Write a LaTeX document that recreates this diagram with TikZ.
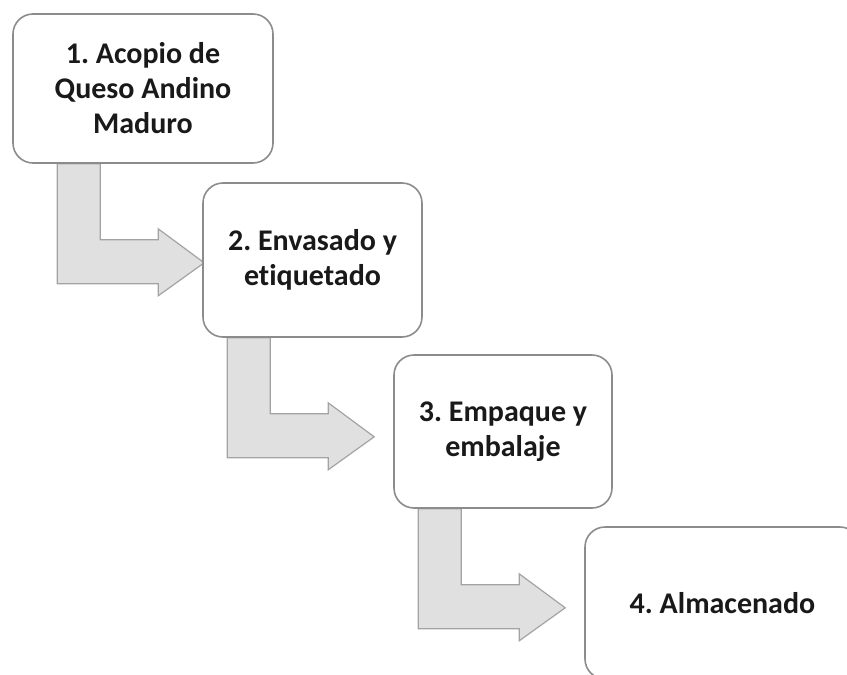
\documentclass[tikz,border=0pt]{standalone}
\usepackage{fontspec}
\setmainfont{Carlito}[Ligatures=NoCommon]
\usetikzlibrary{calc, backgrounds}

\definecolor{borde}{HTML}{8C8C8C}
\definecolor{grisflecha}{HTML}{E0E0E0}
\definecolor{bordeflecha}{HTML}{A3A3A3}

\tikzset{
  paso/.style={draw=borde, line width=1.6pt, fill=white, rounded corners=20pt,
    align=center, inner sep=0pt, font=\fontsize{30}{35}\selectfont\bfseries,
    text=black!90},
  flecha/.style={draw=bordeflecha, line width=1.2pt, fill=grisflecha, line join=miter}
}

% flecha doblada: de la cara inferior de un paso al siguiente
\newcommand{\flecha}[1]{%
  \draw[flecha] (#1) -- ++(43,0) -- ++(0,76) -- ++(58,0) -- ++(0,-11)
    -- ++(46,34) -- ++(-46,33) -- ++(0,-12) -- ++(-101,0) -- cycle;}

\frenchspacing
\begin{document}
\begin{tikzpicture}[x=1pt, y=-1pt]
  \clip (0,0) rectangle (847,675);

  % pasos del proceso
  \node[paso, minimum width=260, minimum height=149] (b1) at (143,88.5)
    {1. Acopio de\\Queso Andino\\Maduro};
  \node[paso, minimum width=219, minimum height=154] (b2) at (312.5,260)
    {2. Envasado y\\etiquetado};
  \node[paso, minimum width=218, minimum height=153] (b3) at (503,431.5)
    {3. Empaque y\\embalaje};
  \node[paso, minimum width=275, minimum height=152] (b4) at (722.5,603)
    {4. Almacenado};

  % flechas
  \begin{scope}[on background layer]
    \flecha{$(b1.south west)+(45,0)$}
    \flecha{$(b2.south west)+(25,0)$}
    \flecha{$(b3.south west)+(25,0)$}
  \end{scope}
\end{tikzpicture}
\end{document}
